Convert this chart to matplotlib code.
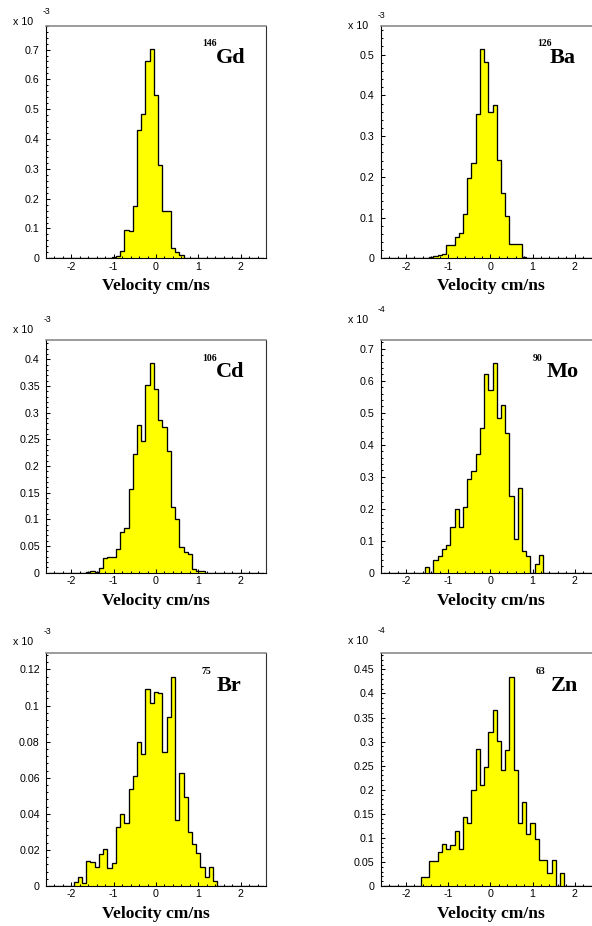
import numpy as np
import matplotlib.pyplot as plt
from matplotlib.ticker import MultipleLocator, FuncFormatter

W, H = 592, 926

# histogram binning: 51 bins of 0.1 cm/ns
edges = np.linspace(-2.55, 2.55, 52)

nuclei = ['Gd', 'Ba', 'Cd', 'Mo', 'Br', 'Zn']
masses = ['146', '126', '106', '90', '75', '63']
exponents = ['-3', '-3', '-3', '-4', '-3', '-4']
first_bin = [-1.1, -1.4, -1.6, -1.5, -1.9, -1.6]   # centre of first listed bin

gd = [0.002, 0.004, 0.009, 0.024, 0.095, 0.092, 0.176, 0.431, 0.483, 0.661,
      0.702, 0.548, 0.314, 0.158, 0.158, 0.034, 0.022, 0.011, 0.002]
ba = [0.002, 0.006, 0.007, 0.010, 0.032, 0.032, 0.052, 0.061, 0.108, 0.196,
      0.233, 0.355, 0.514, 0.483, 0.358, 0.377, 0.241, 0.161, 0.104, 0.034,
      0.034, 0.034, 0.002]
cd = [0.002, 0.003, 0.002, 0.009, 0.027, 0.029, 0.029, 0.044, 0.076, 0.083,
      0.157, 0.2225, 0.2775, 0.247, 0.3525, 0.394, 0.345, 0.2856, 0.2725, 0.229,
      0.1225, 0.100, 0.0475, 0.038, 0.035, 0.006, 0.004, 0.004]
mo = [0.019, 0.0, 0.040, 0.052, 0.073, 0.086, 0.142, 0.199, 0.142, 0.205,
      0.292, 0.319, 0.372, 0.453, 0.622, 0.572, 0.656, 0.482, 0.523, 0.436,
      0.240, 0.106, 0.265, 0.068, 0.052, 0.0, 0.027, 0.054]
br = [0.0024, 0.0052, 0.0015, 0.0140, 0.0133, 0.0103, 0.0180, 0.0207, 0.0098, 0.0129,
      0.0327, 0.0397, 0.0347, 0.0535, 0.0611, 0.0800, 0.0731, 0.1093, 0.1015, 0.1073,
      0.1069, 0.0740, 0.0938, 0.1158, 0.0367, 0.0628, 0.0495, 0.0301, 0.0231, 0.0185,
      0.0105, 0.0050, 0.0105, 0.0030]
zn = [0.018, 0.018, 0.0526, 0.0526, 0.070, 0.0879, 0.0775, 0.0845, 0.1142, 0.0775,
      0.1433, 0.130, 0.1987, 0.2838, 0.209, 0.2478, 0.3205, 0.3655, 0.3019, 0.2402,
      0.2825, 0.4348, 0.2402, 0.130, 0.1745, 0.1087, 0.130, 0.0983, 0.054, 0.054,
      0.0263, 0.054, 0.0, 0.0263]
counts = [gd, ba, cd, mo, br, zn]

ymax = [0.78, 0.571, 0.436, 0.727, 0.1289, 0.4832]
ymajor = [0.1, 0.1, 0.05, 0.1, 0.02, 0.05]

# layout in pixels
ax_left = [46, 380.7, 46, 380.7, 46, 380.7]
ax_bottom = [258.3, 258.3, 572.7, 572.7, 886, 886]
ax_w = [220, 219.4, 220, 219.4, 220, 219.4]
ax_h = 232.6
sup_x = [0.712, 0.712, 0.708, 0.694, 0.708, 0.708]
main_x = [0.773, 0.772, 0.773, 0.757, 0.776, 0.776]
x10_x = [13, 347.7, 13.3, 347.7, 13.3, 347.7]
x10_y = [25, 29.3, 333.3, 323.3, 645, 644.3]

fmt = FuncFormatter(lambda v, p: '%g' % round(v, 6))

fig = plt.figure(figsize=(W / 100, H / 100), dpi=100)

for k in range(6):
    ax = fig.add_axes([ax_left[k] / W, 1 - ax_bottom[k] / H, ax_w[k] / W, ax_h / H])
    vals = np.zeros(len(edges) - 1)
    i0 = int(round((first_bin[k] + 2.5) / 0.1))
    vals[i0:i0 + len(counts[k])] = counts[k]
    ax.stairs(vals, edges, fill=True, color='#ffff00', baseline=0)
    ax.stairs(vals, edges, color='black', lw=0.95, baseline=0)

    ax.set_xlim(-2.6, 2.6)
    ax.set_ylim(0, ymax[k])
    ax.xaxis.set_major_locator(MultipleLocator(1))
    ax.xaxis.set_minor_locator(MultipleLocator(0.2))
    ax.yaxis.set_major_locator(MultipleLocator(ymajor[k]))
    ax.yaxis.set_minor_locator(MultipleLocator(ymajor[k] / 5))
    ax.yaxis.set_major_formatter(fmt)
    ax.xaxis.set_major_formatter(fmt)
    ax.tick_params(which='both', direction='in', top=False, right=False, width=0.75)
    ax.tick_params(which='major', length=2.6)
    ax.tick_params(which='minor', length=1.4)
    ax.tick_params(axis='y', pad=4.5)
    ax.tick_params(axis='x', pad=2.5)
    for lab in ax.get_xticklabels() + ax.get_yticklabels():
        lab.set_family('Liberation Sans')
        lab.set_fontsize(7.7)
    ax.spines['left'].set_linewidth(0.8)
    ax.spines['bottom'].set_linewidth(0.8)
    ax.spines['top'].set_color('#808080')
    ax.spines['top'].set_linewidth(1.1)
    ax.spines['right'].set_color('#303030')
    ax.spines['right'].set_linewidth(0.8)

    ax.text(0.5, -32 / ax_h, 'Velocity cm/ns', transform=ax.transAxes,
            ha='center', va='baseline', fontsize=12.6, fontweight='bold',
            family='Liberation Serif')
    ax.text(sup_x[k], 0.912, masses[k], transform=ax.transAxes, ha='left',
            va='baseline', fontsize=7, fontweight='bold', family='Liberation Serif')
    ax.text(main_x[k], 0.84, nuclei[k], transform=ax.transAxes, ha='left',
            va='baseline', fontsize=16, fontweight='bold', family='Liberation Serif')

    fig.text(x10_x[k] / W, 1 - x10_y[k] / H, 'x 10', fontsize=7.7,
             family='Liberation Sans', va='baseline')
    fig.text((x10_x[k] + 30) / W, 1 - (x10_y[k] - 11) / H, exponents[k],
             fontsize=6.3, family='Liberation Sans', va='baseline')

fig.savefig('out.png', dpi=100)
